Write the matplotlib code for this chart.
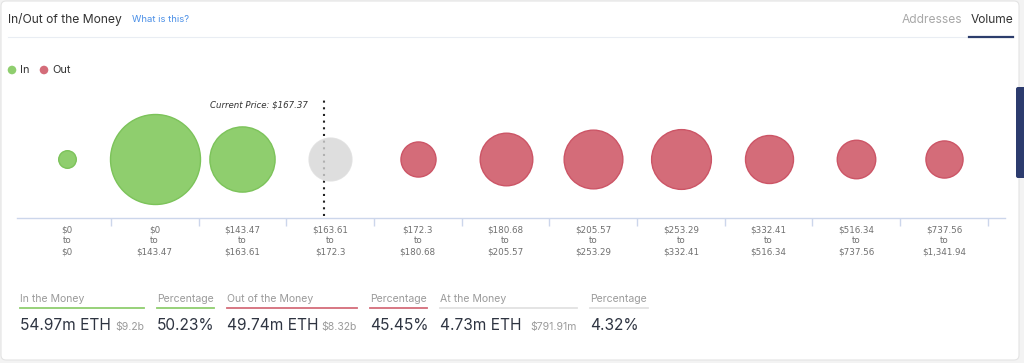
import matplotlib
matplotlib.use("Agg")
import matplotlib.pyplot as plt
import numpy as np
from matplotlib.patches import FancyBboxPatch, Circle
from matplotlib.lines import Line2D
from matplotlib.transforms import Affine2D

# price buckets (labels exactly as shown)
range_lo = ["$0", "$0", "$143.47", "$163.61", "$172.3", "$180.68", "$205.57",
            "$253.29", "$332.41", "$516.34", "$737.56"]
range_hi = ["$0", "$143.47", "$163.61", "$172.3", "$180.68", "$205.57", "$253.29",
            "$332.41", "$516.34", "$737.56", "$1,341.94"]
# volume per bucket, million ETH
volume_m = [0.08, 38.3, 16.6, 4.73, 2.31, 9.02, 12.41, 13.05, 6.82, 3.27, 2.86]
status = ["in", "in", "in", "at", "out", "out", "out", "out", "out", "out", "out"]
current_price = 167.37

summary_labels = ["In the Money", "Out of the Money", "At the Money"]
summary_eth = ["54.97m ETH", "49.74m ETH", "4.73m ETH"]
summary_usd = ["$9.2b", "$8.32b", "$791.91m"]
summary_pct = ["50.23%", "45.45%", "4.32%"]

fill = {"in": "#8fce6e", "out": "#d46c79", "at": "#d6d6d6"}
edge = {"in": "#7cc35a", "out": "#cc5566", "at": "#dedede"}
alpha = {"in": 1.0, "out": 1.0, "at": 0.8}
line_col = ["#8fce6e", "#d46c79", "#e2e2e2"]

plt.rcParams["font.family"] = ["Inter", "DejaVu Sans"]

W, H = 1024, 363
fig = plt.figure(figsize=(W / 100, H / 100), dpi=100)
fig.patch.set_facecolor("#f3f3f3")

# pixel coordinates, origin top-left
px = Affine2D().scale(1, -1).translate(0, H)


def pt(p):
    return p * 0.72


def ftext(x, y, s, size, color, **kw):
    kw.setdefault("va", "center")
    fig.text(x, y, s, fontsize=pt(size), color=color, transform=px, **kw)


def fline(xs, ys, color, lw):
    fig.add_artist(Line2D(xs, ys, transform=px, color=color, lw=lw))


# card
card = FancyBboxPatch((1, 1), 1018, 359, boxstyle="round,pad=0,rounding_size=5",
                      transform=px, facecolor="white", edgecolor="#e4e4e4",
                      linewidth=0.8, zorder=-2)
fig.add_artist(card)

# header
ftext(8, 20, "In/Out of the Money", 12.1, "#333333")
ftext(132, 20, "What is this?", 9.5, "#4a8fe7")
ftext(1013, 20, "Volume", 12, "#333333", ha="right")
ftext(962, 20, "Addresses", 12, "#a8a8a8", ha="right")
fline([8, 1013], [37, 37], "#e9edf3", 0.8)
fline([969, 1013], [36.5, 36.5], "#2c3d6c", 1.6)

# legend
for cx, key, label, tx in [(12, "in", "In", 20), (44, "out", "Out", 52)]:
    fig.add_artist(Circle((cx, 70), 4.3, transform=px, facecolor=fill[key], edgecolor="none"))
    ftext(tx, 70, label, 11, "#333333")

# side tab
fig.add_artist(FancyBboxPatch((1016, 87), 12, 91, boxstyle="round,pad=0,rounding_size=2",
                              transform=px, facecolor="#2c3b6e", edgecolor="none"))

# bubble chart
ax = fig.add_axes([17 / W, 1 - 218 / H, 988 / W, 118 / H])
x0, step = 67, 87.7
ax.set_xlim((17 - x0) / step, (1005 - x0) / step)
ax.set_ylim(0, 1)

n = len(volume_m)
xs = np.arange(n)
v = np.array(volume_m)
r_min, r_max = 9.3, 45.5
radius = r_min + (r_max - r_min) * np.sqrt((v - v.min()) / (v.max() - v.min()))

for i in range(n):
    k = status[i]
    d = 2 * (radius[i] - 0.5) * 0.72
    ax.scatter(xs[i], 0.5, s=d ** 2, color=fill[k], edgecolors=edge[k],
               linewidths=1.0, alpha=alpha[k], zorder=3)

# current price marker
lo = np.array([float(s.strip("$").replace(",", "")) for s in range_lo])
hi = np.array([float(s.strip("$").replace(",", "")) for s in range_hi])
j = int(np.where((lo <= current_price) & (hi > current_price))[0][-1])
cp_x = j - 0.5 + (current_price - lo[j]) / (hi[j] - lo[j])
ax.plot([cp_x, cp_x], [0.02, 1.0], color="#222222", lw=1.5,
        linestyle=(0, (1, 2.2)), zorder=2)
ax.text(cp_x - 16 / step, 0.955, "Current Price: $%.2f" % current_price,
        ha="right", va="center", fontsize=pt(8.6), style="italic",
        family="DejaVu Sans", color="#333333")

for s in ["top", "right", "left"]:
    ax.spines[s].set_visible(False)
ax.spines["bottom"].set_color("#ccd6eb")
ax.spines["bottom"].set_linewidth(1.0)
ax.set_yticks([])
ax.set_xticks(np.arange(n) + 0.5)
ax.set_xticklabels([])
ax.tick_params(axis="x", which="major", length=pt(8), color="#ccd6eb", width=1.0)
ax.set_xticks(xs, minor=True)
ax.set_xticklabels(["%s\nto\n%s" % (a, b) for a, b in zip(range_lo, range_hi)],
                   minor=True, fontsize=pt(8.8), color="#707070", family="DejaVu Sans",
                   linespacing=1.32)
ax.tick_params(axis="x", which="minor", length=0, pad=pt(7))
ax.patch.set_alpha(0)

# summary row
cols = [(20, 144, 157, 214), (227, 357, 370, 427), (440, 577, 590, 648)]
for i, (a, b, c, d) in enumerate(cols):
    ftext(a, 299, summary_labels[i], 10.5, "#9b9b9b")
    ftext(c, 299, "Percentage", 10.5, "#9b9b9b")
    for p, q in [(a, b), (c, d)]:
        fline([p, q], [308, 308], line_col[i], 1.3)
    ftext(a, 330, summary_eth[i], 15.5, "#2e3441", va="baseline")
    ftext(b, 330, summary_usd[i], 10.5, "#9b9b9b", va="baseline", ha="right")
    ftext(c, 330, summary_pct[i], 15.5, "#2e3441", va="baseline")

fig.savefig("out.png", dpi=100, facecolor=fig.get_facecolor())
